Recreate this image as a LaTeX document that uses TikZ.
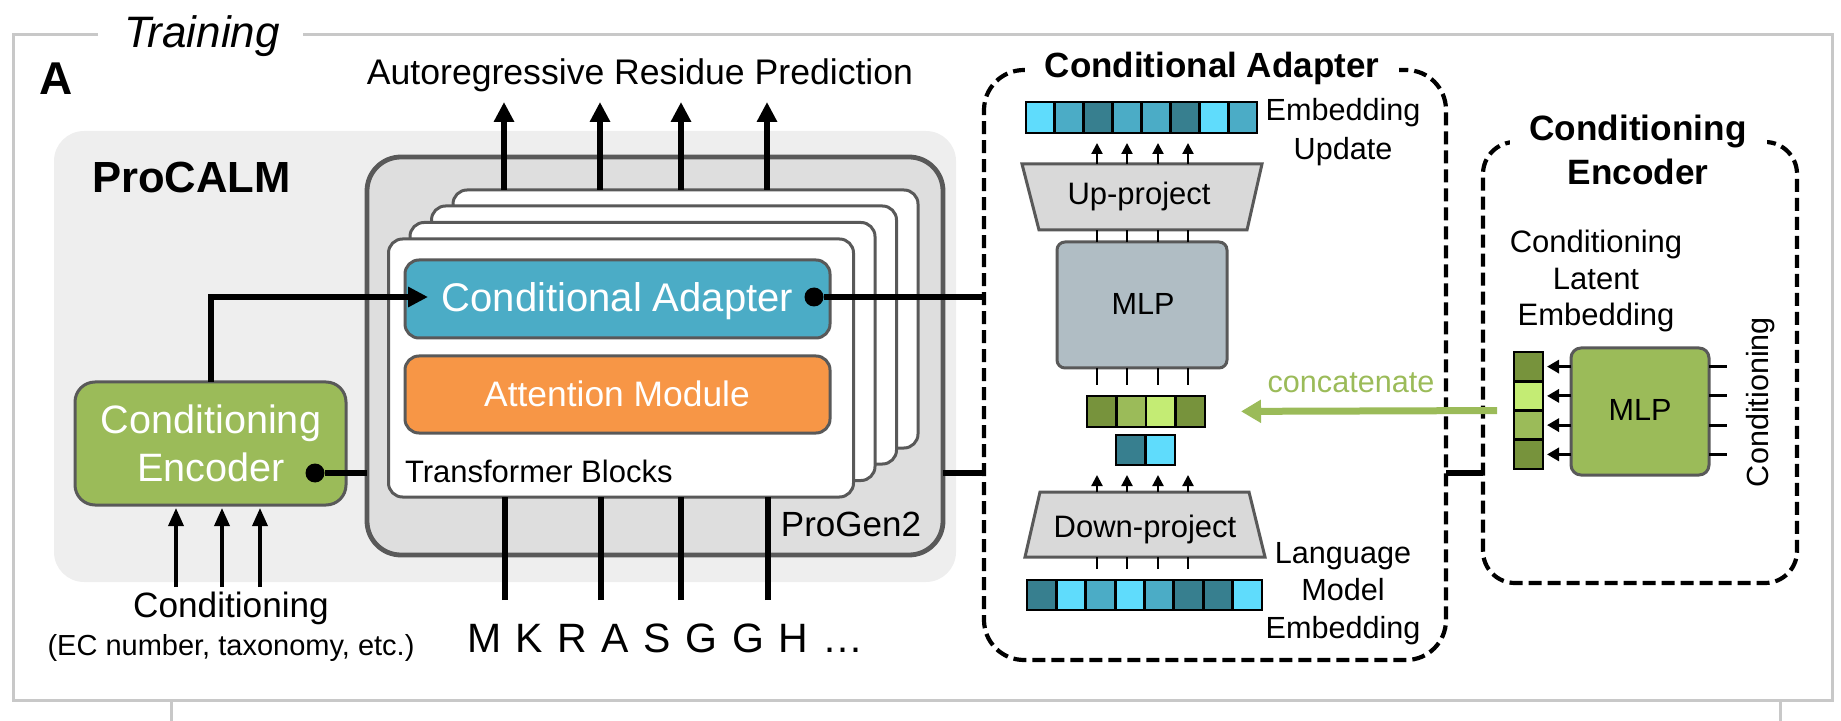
\documentclass[tikz,border=0pt]{standalone}
\usepackage{fontspec}
\setmainfont{Liberation Sans}
\usetikzlibrary{arrows.meta,calc}
\definecolor{framegray}{HTML}{C8C8C8}
\definecolor{procalmbg}{HTML}{EEEEEE}
\definecolor{progenbg}{HTML}{DEDEDE}
\definecolor{edge}{HTML}{595959}
\definecolor{cablue}{HTML}{4BACC6}
\definecolor{amorange}{HTML}{F79646}
\definecolor{cegreen}{HTML}{9BBB59}
\definecolor{mlpgray}{HTML}{B0BDC4}
\definecolor{trapgray}{HTML}{D9D9D9}
\definecolor{cyanL}{HTML}{5FDCFC}
\definecolor{blueM}{HTML}{4BACC6}
\definecolor{tealD}{HTML}{377F8F}
\definecolor{oliveD}{HTML}{77933C}
\definecolor{greenM}{HTML}{9BBB59}
\definecolor{limeL}{HTML}{C4EC74}
\begin{document}
\begin{tikzpicture}[x=0.5pt,y=-0.5pt,
  every node/.style={inner sep=0pt,outer sep=0pt},
  box/.style={draw=edge,line width=1.5pt,rounded corners=7pt},
  block/.style={box,fill=white,minimum width=232.5pt,minimum height=129pt},
  dashbox/.style={draw=black,line width=2.1pt,dash pattern=on 6.5pt off 3pt},
  cell/.style={draw=black,line width=1.4pt},
  trap/.style={draw=edge,line width=1.5pt,fill=trapgray},
  bigline/.style={line width=3.1pt},
  bigarrow/.style={line width=3.1pt,-{Triangle[width=9.7pt,length=10pt]}},
  medarrow/.style={line width=1.7pt,-{Triangle[width=7.5pt,length=9pt]}},
  marrow/.style={line width=1.5pt,-{Triangle[width=6.5pt,length=6pt]}},
  sarrow/.style={line width=1.1pt,-{Triangle[width=5.5pt,length=5.5pt]}},
  sline/.style={line width=1.1pt},
  dot/.style={circle,fill=black,minimum size=9.5pt},
  ghost/.style={draw=none}
]
\useasboundingbox (0,0) rectangle (1841,721);

% outer frame
\draw[framegray,line width=1.5pt] (98,35) -- (13.5,35) -- (13.5,700) -- (1832,700) -- (1832,35) -- (303,35);
\draw[framegray,line width=1.5pt] (171,700) -- (171,721) (1780,700) -- (1780,721);
\node[anchor=base,font={\fontsize{22}{26}\selectfont\itshape}] (training) at (202,48) {Training};
\node[anchor=base,font={\fontsize{23}{27}\selectfont\bfseries}] (lblA) at (56,95) {A};

% ProCALM and ProGen2
\node[fill=procalmbg,rounded corners=15pt,minimum width=451pt,minimum height=225.5pt] (procalm) at (505,356.5) {};
\node[anchor=base west,font={\fontsize{21.8}{26}\selectfont\bfseries}] (procalmlbl) at (92,193) {ProCALM};
\node[draw=edge,fill=progenbg,line width=2.4pt,rounded corners=17pt,minimum width=288pt,minimum height=199pt] (progen) at (655,356) {};
\node[anchor=base east,font={\fontsize{17.5}{21}\selectfont}] (progenlbl) at (921,536) {ProGen2};

% transformer blocks
\node[block] (tb4) at (685.5,319) {};
\node[block] (tb3) at (664,335) {};
\node[block] (tb2) at (642.5,351.5) {};
\node[block] (tb1) at (621,368) {};
\node[anchor=base west,font={\fontsize{15.5}{19}\selectfont}] (tblbl) at (405,482) {Transformer Blocks};

\node[box,fill=cablue,minimum width=212.5pt,minimum height=39pt] (ca) at (617.5,299) {};
\node[anchor=base,text=white,font={\fontsize{20}{24}\selectfont}] (catext) at (617.5,312) {Conditional Adapter};
\node[box,fill=amorange,minimum width=212.5pt,minimum height=38.5pt] (am) at (617.5,394.5) {};
\node[anchor=base,text=white,font={\fontsize{17.7}{21}\selectfont}] (amtext) at (617,407) {Attention Module};

% conditioning encoder
\node[box,fill=cegreen,rounded corners=10pt,minimum width=135.5pt,minimum height=61.5pt] (ce) at (210.5,443.5) {};
\node[anchor=north,align=center,text=white,font={\fontsize{19.8}{24}\selectfont}] (cetext) at (211,405) {Conditioning\\Encoder};

% output arrows
\coordinate (o1) at (504,102);
\coordinate (o2) at (600,102);
\coordinate (o3) at (681,102);
\coordinate (o4) at (767,102);
\foreach \o in {o1,o2,o3,o4} \draw[bigarrow] (\o |- tb4.north) -- (\o);
\node[anchor=base,font={\fontsize{17.8}{21}\selectfont}] (autoreg) at (640,85) {Autoregressive Residue Prediction};

% input lines
\coordinate (i1) at (505,600);
\coordinate (i2) at (601,600);
\coordinate (i3) at (681,600);
\coordinate (i4) at (768,600);
\foreach \i in {i1,i2,i3,i4} \draw[bigline] (\i) -- (\i |- tb1.south);
\node[anchor=base west,font={\fontsize{20.5}{25}\selectfont\spaceskip=7.3pt\relax}] (seq) at (467,652) {M K R A S G G H …};

% conditioning inputs
\coordinate (c1) at (176,587);
\coordinate (c2) at (222,587);
\coordinate (c3) at (260,587);
\foreach \c in {c1,c2,c3} \draw[medarrow,shorten >=1.5pt] (\c) -- (\c |- ce.south);
\node[anchor=base,font={\fontsize{17.6}{21}\selectfont}] (condlbl) at (231,617) {Conditioning};
\node[anchor=base,font={\fontsize{14.5}{17}\selectfont}] (eclbl) at (231,655) {(EC number, taxonomy, etc.)};

% CE -> CA
\coordinate (cex) at (211,0);
\coordinate (catip) at (428,297);
\draw[bigarrow] (ce.north -| cex) |- (catip);

% dashed detail boxes
\node[dashbox,rounded corners=20pt,minimum width=231pt,minimum height=295pt] (cad) at (1215,365) {};
\node[dashbox,rounded corners=16pt,minimum width=157pt,minimum height=220.5pt] (ced) at (1640,362.5) {};
\node[anchor=base,fill=white,inner xsep=10pt,font={\fontsize{17.5}{21}\selectfont\bfseries}] (cadtitle) at (1212,78) {Conditional Adapter};
\node[anchor=north,align=center,fill=white,inner xsep=10pt,font={\fontsize{17.6}{22}\selectfont\bfseries}] (cedtitle) at (1638,115) {Conditioning\\Encoder};

% dots and connections
\node[dot] (cadot) at (814,297) {};
\node[dot] (cedot) at (315,473) {};
\draw[bigline] (cadot) -- (cadot -| cad.west);
\draw[bigline] (cedot) -- (cedot -| progen.west);
\draw[bigline] (progen.east |- cedot) -- (cad.west |- cedot);
\draw[bigline] (cad.east |- cedot) -- (ced.west |- cedot);

% ---- Conditional adapter detail ----
\node[ghost,minimum width=115.5pt,minimum height=15.5pt] (topvec) at (1141.5,117.5) {};
\foreach \c [count=\i from 0] in {cyanL,blueM,tealD,blueM,blueM,tealD,cyanL,blueM}
  \draw[cell,fill=\c] ({1026+\i*28.875},102) rectangle ++(28.875,31);
\node[anchor=north,align=center,font={\fontsize{15.3}{19.5}\selectfont}] (embupd) at (1343,98) {Embedding\\Update};

\node[ghost,minimum width=120pt,minimum height=33pt] (up) at (1142,197) {};
\draw[trap] (up.north west) -- (up.north east) -- ($(up.south east)+(-15,0)$) -- ($(up.south west)+(17,0)$) -- cycle;
\node[anchor=base,font={\fontsize{15.5}{19}\selectfont}] (uptext) at (1139,205) {Up-project};

\node[box,fill=mlpgray,rounded corners=4pt,minimum width=85pt,minimum height=63pt] (mlp) at (1142,305) {};
\node[anchor=base,font={\fontsize{15.3}{19}\selectfont}] (mlptext) at (1143,315) {MLP};

\node[ghost,minimum width=59pt,minimum height=15.5pt] (catvec) at (1146,411.5) {};
\foreach \c [count=\i from 0] in {oliveD,greenM,limeL,oliveD}
  \draw[cell,fill=\c] ({1087+\i*29.5},396) rectangle ++(29.5,31);
\node[ghost,minimum width=29.5pt,minimum height=15pt] (smallvec) at (1145.5,450) {};
\foreach \c [count=\i from 0] in {tealD,cyanL}
  \draw[cell,fill=\c] ({1116+\i*29.5},435) rectangle ++(29.5,30);

\node[ghost,minimum width=120pt,minimum height=32.5pt] (down) at (1145,524.5) {};
\draw[trap] ($(down.north west)+(15,0)$) -- ($(down.north east)+(-16,0)$) -- (down.south east) -- (down.south west) -- cycle;
\node[anchor=base,font={\fontsize{15.5}{19}\selectfont}] (downtext) at (1145,537) {Down-project};

\node[ghost,minimum width=117.5pt,minimum height=15pt] (lmvec) at (1144.5,595) {};
\foreach \c [count=\i from 0] in {tealD,cyanL,blueM,cyanL,blueM,tealD,tealD,cyanL}
  \draw[cell,fill=\c] ({1027+\i*29.375},580) rectangle ++(29.375,30);
\node[anchor=north,align=center,font={\fontsize{15.3}{18.75}\selectfont}] (lmemb) at (1343,542) {Language\\Model\\Embedding};

\coordinate (ax1) at (1097,0);
\coordinate (ax2) at (1127,0);
\coordinate (ax3) at (1158,0);
\coordinate (ax4) at (1188,0);
\foreach \a in {ax1,ax2,ax3,ax4} {
  \draw[sarrow,shorten >=5pt] (up.north -| \a) -- (topvec.south -| \a);
  \draw[sline] (mlp.north -| \a) -- (up.south -| \a);
  \draw[sline,shorten >=5.5pt] (mlp.south -| \a) -- (catvec.north -| \a);
  \draw[sarrow,shorten >=5pt] (down.north -| \a) -- (smallvec.south -| \a);
  \draw[sline,shorten <=5.5pt] (lmvec.north -| \a) -- (down.south -| \a);
}

% ---- Conditioning encoder detail ----
\node[ghost,minimum width=14.5pt,minimum height=58.5pt] (latvec) at (1528.5,410.5) {};
\foreach \c [count=\i from 0] in {oliveD,limeL,greenM,oliveD}
  \draw[cell,fill=\c] (1514,{352+\i*29.25}) rectangle ++(29,29.25);
\node[anchor=north,align=center,font={\fontsize{15.5}{18.3}\selectfont}] (clelbl) at (1596,230) {Conditioning\\Latent\\Embedding};
\node[box,fill=cegreen,rounded corners=5pt,minimum width=69pt,minimum height=63.5pt] (gmlp) at (1640,411.5) {};
\node[anchor=base,font={\fontsize{15.3}{19}\selectfont}] (gmlptext) at (1640,421) {MLP};
\foreach \y [count=\k] in {366.6,395.9,425.1,454.4} {
  \coordinate (r\k) at (1727,\y);
  \draw[marrow,shorten >=2pt] (gmlp.west |- r\k) -- (latvec.east |- r\k);
  \draw[line width=1.5pt] (gmlp.east |- r\k) -- (r\k);
}
\node[rotate=90,font={\fontsize{15.3}{19}\selectfont}] (condrot) at (1761,402) {Conditioning};

% concatenate
\draw[cegreen,line width=3.5pt,-{Triangle[width=11pt,length=10pt]},shorten <=8.5pt,shorten >=18pt] (latvec.west) -- (catvec.east);
\node[anchor=base,text=cegreen,font={\fontsize{15.3}{19}\selectfont}] (concat) at (1351,393) {concatenate};
\end{tikzpicture}
\end{document}
